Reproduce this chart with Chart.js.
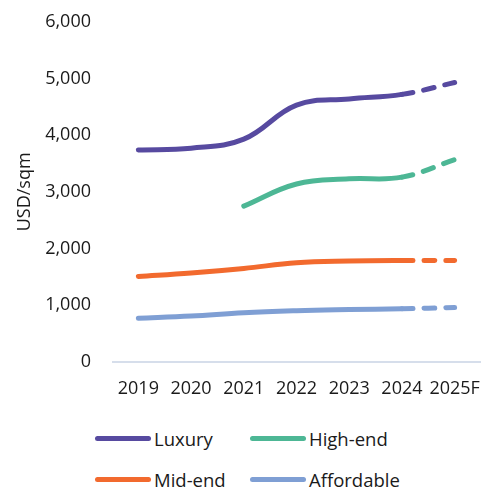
<!DOCTYPE html>
<html>
<head>
<meta charset="utf-8">
<script src="https://cdn.jsdelivr.net/npm/chart.js@4"></script>
<style>
  body { margin: 0; background: #fff; font-family: "Open Sans", sans-serif; }
  #wrap { position: relative; width: 496px; height: 488px; overflow: hidden; }
  #box { position: absolute; left: 0; top: -10px; width: 496px; height: 412px; }
  .leg { position: absolute; display: flex; align-items: center; font-size: 18.5px; color: #1a1a1a; }
  .leg span.sw { display: inline-block; width: 56px; height: 5px; border-radius: 3px; margin-right: 3px; }
</style>
</head>
<body>
<div id="wrap">
  <div id="box"><canvas id="priceChart"></canvas></div>
  <div id="legend"></div>
</div>
<script>
const years = ['2019', '2020', '2021', '2022', '2023', '2024', '2025F'];
const luxury = [3740, 3770, 3930, 4530, 4640, 4720, 4930];
const highEnd = [null, null, 2750, 3140, 3230, 3260, 3570];
const midEnd = [1510, 1570, 1650, 1750, 1780, 1790, 1790];
const affordable = [770, 810, 870, 905, 925, 940, 960];
const yTicks = [0, 1000, 2000, 3000, 4000, 5000, 6000];

const series = [
  { label: 'Luxury', data: luxury, color: '#574aa0' },
  { label: 'High-end', data: highEnd, color: '#4db795' },
  { label: 'Mid-end', data: midEnd, color: '#f26a2e' },
  { label: 'Affordable', data: affordable, color: '#7f9fd4' }
];

const forecastIndex = years.length - 1;
const tickFont = { family: 'Open Sans', size: 18 };

const ctx = document.getElementById('priceChart').getContext('2d');
const chart = new Chart(ctx, {
  type: 'line',
  data: {
    labels: years,
    datasets: series.map(s => ({
      label: s.label,
      data: s.data,
      borderColor: s.color,
      backgroundColor: s.color,
      borderWidth: 5,
      borderCapStyle: 'round',
      borderJoinStyle: 'round',
      tension: 0.4,
      pointRadius: 0,
      pointHoverRadius: 0,
      segment: {
        borderDash: c => c.p1DataIndex === forecastIndex ? [11, 11] : undefined
      }
    }))
  },
  options: {
    responsive: true,
    maintainAspectRatio: false,
    animation: false,
    layout: { padding: { top: 8, right: 15, left: 0, bottom: 0 } },
    plugins: { legend: { display: false }, tooltip: { enabled: false } },
    scales: {
      x: {
        offset: true,
        grid: { display: false },
        border: { display: false },
        ticks: { color: '#1a1a1a', font: tickFont, padding: 8, maxRotation: 0, autoSkip: false },
        afterFit: scale => { scale.height = 40; }
      },
      y: {
        min: 0,
        max: 6000,
        afterBuildTicks: scale => { scale.ticks = yTicks.map(v => ({ value: v })); },
        grid: {
          drawTicks: false,
          color: c => c.tick && c.tick.value === 0 ? '#d6deeb' : 'transparent',
          lineWidth: 2
        },
        border: { display: false },
        ticks: {
          color: '#1a1a1a',
          font: tickFont,
          padding: 21,
          callback: v => v.toLocaleString('en-US')
        },
        title: {
          display: true,
          text: 'USD/sqm',
          color: '#1a1a1a',
          font: tickFont,
          padding: { top: 14, bottom: 0 }
        },
        afterFit: scale => { scale.width = 112; }
      }
    }
  }
});

// legend in two columns, like the original
const legendPos = [[95, 438], [250, 438], [95, 479], [250, 479]];
const legendEl = document.getElementById('legend');
series.forEach((s, i) => {
  const d = document.createElement('div');
  d.className = 'leg';
  d.style.left = legendPos[i][0] + 'px';
  d.style.top = (legendPos[i][1] - 12) + 'px';
  d.style.height = '24px';
  d.innerHTML = '<span class="sw" style="background:' + s.color + '"></span>' + s.label;
  legendEl.appendChild(d);
});
</script>
</body>
</html>
